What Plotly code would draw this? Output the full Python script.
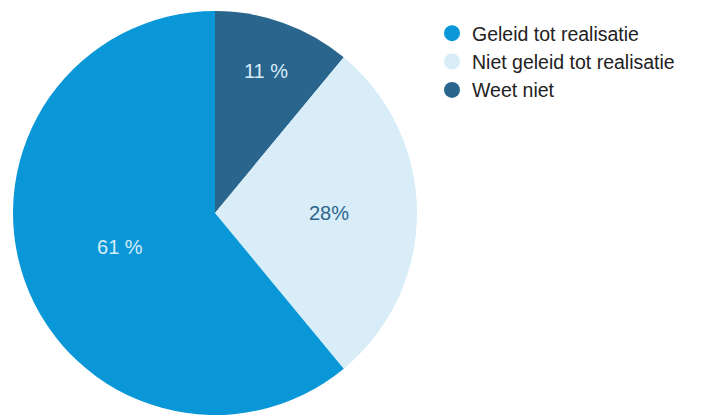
import plotly.graph_objects as go

labels = ["Geleid tot realisatie", "Niet geleid tot realisatie", "Weet niet"]
values = [61, 28, 11]
slice_text = ["61 %", "28%", "11 %"]
colors = ["#0a97d7", "#d8edf8", "#2a658e"]
text_colors = ["#d8edf8", "#2a658e", "#d8edf8"]

W, H = 706, 415

fig = go.Figure()
# slices drawn clockwise from 12 o'clock in reverse legend order
fig.add_trace(go.Pie(
    labels=labels[::-1],
    values=values[::-1],
    text=slice_text[::-1],
    textinfo="text",
    textposition="inside",
    insidetextorientation="horizontal",
    textfont=dict(size=20, color=text_colors[::-1], family="Liberation Sans, Arial, sans-serif"),
    marker=dict(colors=colors[::-1], line=dict(width=0)),
    sort=False,
    direction="clockwise",
    rotation=0,
    showlegend=False,
    hoverinfo="label+percent",
    domain=dict(x=[13 / W, 417 / W], y=[0, 1 - 11 / H]),
))

for lab, col in zip(labels, colors):
    fig.add_trace(go.Scatter(
        x=[None], y=[None], mode="markers", name=lab,
        marker=dict(color=col, size=16, symbol="circle"),
        showlegend=True,
    ))

fig.update_layout(
    width=W, height=H,
    margin=dict(l=0, r=0, t=0, b=0),
    paper_bgcolor="white",
    plot_bgcolor="white",
    xaxis=dict(visible=False),
    yaxis=dict(visible=False),
    legend=dict(
        x=432 / W, y=1 - 14 / H, xanchor="left", yanchor="top",
        font=dict(size=19.5, color="#222222", family="Liberation Sans, Arial, sans-serif"),
        bgcolor="rgba(0,0,0,0)",
        itemwidth=30,
        tracegroupgap=0,
    ),
    font=dict(family="Liberation Sans, Arial, sans-serif"),
)

fig.write_html("out.html")
